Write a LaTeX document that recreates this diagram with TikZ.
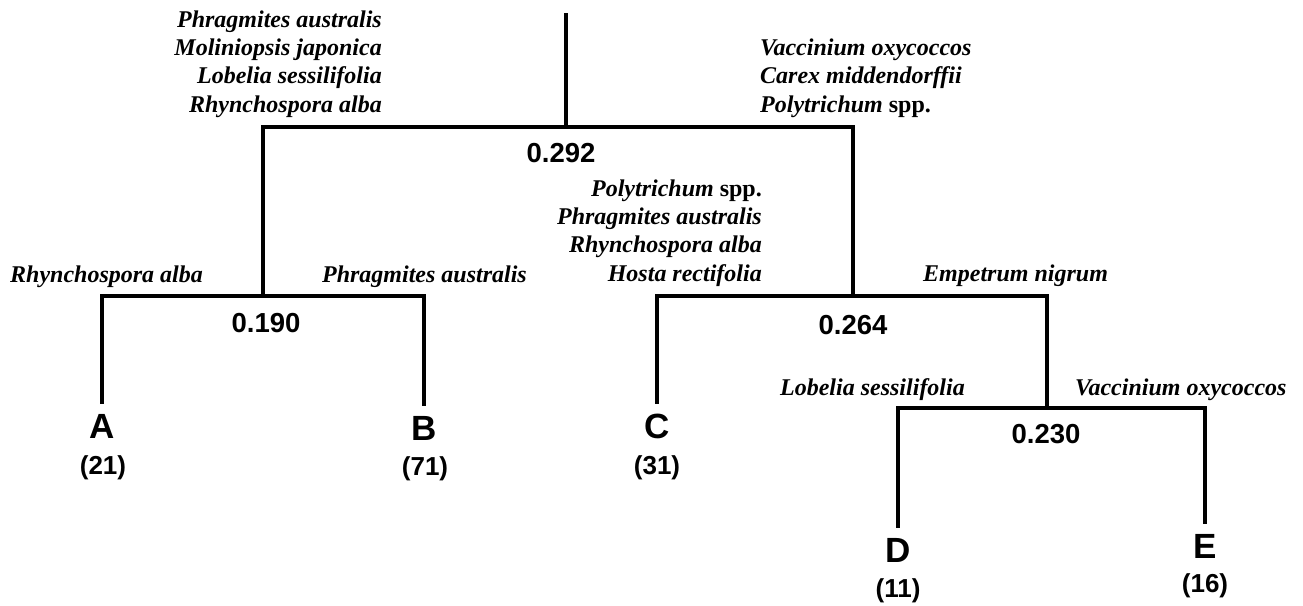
\documentclass[tikz,border=0pt]{standalone}
\usepackage{fontspec}
\setmainfont{Liberation Serif}
\setsansfont{Liberation Sans}
\begin{document}
\begin{tikzpicture}[x=1pt,y=-1pt,
  sp/.style={font=\fontsize{24}{28.3}\selectfont\bfseries\itshape, inner sep=0pt},
  num/.style={font=\fontsize{27.5}{30}\selectfont\sffamily\bfseries, inner sep=0pt},
  leaf/.style={font=\fontsize{35}{40}\selectfont\sffamily\bfseries, inner sep=0pt, outer ysep=10pt, anchor=base},
  cnt/.style={font=\fontsize{26}{28}\selectfont\sffamily\bfseries, inner sep=0pt, anchor=base},
  branch/.style={line width=4pt, line join=miter}]
\path[use as bounding box] (0,0) rectangle (1303,605);
% junctions
\coordinate (top) at (566,13);
\coordinate (j1) at (566,127);
\coordinate (j2) at (263,296);
\coordinate (j3) at (853,296);
\coordinate (j4) at (1047,408);
% leaves
\node[leaf] (A) at (102,438) {A};
\node[leaf] (B) at (424,440) {B};
\node[leaf] (C) at (657,438) {C};
\node[leaf] (D) at (898,562) {D};
\node[leaf] (E) at (1205,558) {E};
\node[cnt] (nA) at (103,474) {(21)};
\node[cnt] (nB) at (425,475) {(71)};
\node[cnt] (nC) at (657,474) {(31)};
\node[cnt] (nD) at (898,597) {(11)};
\node[cnt] (nE) at (1205,592) {(16)};
% branches
\draw[branch] (top) -- (j1);
\draw[branch] (j2) |- (j1) -| (j3);
\draw[branch] (A.north) |- (j2) -| (B.north);
\draw[branch] (C.north) |- (j3) -| (j4);
\draw[branch] (D.north) |- (j4) -| (E.north);
% distances
\node[num] (d1) at (561,153) {0.292};
\node[num] (d2) at (266,323) {0.190};
\node[num] (d3) at (853,325) {0.264};
\node[num] (d4) at (1046,434) {0.230};
% species labels
\node[sp, anchor=base east, align=right] (s1) at (382,112)
  {Phragmites australis\\Moliniopsis japonica\\Lobelia sessilifolia\\Rhynchospora alba};
\node[sp, anchor=base west, align=left] (s2) at (760,112)
  {Vaccinium oxycoccos\\Carex middendorffii\\Polytrichum \textup{spp.}};
\node[sp, anchor=base west] (s3) at (10,282) {Rhynchospora alba};
\node[sp, anchor=base east] (s4) at (527,282) {Phragmites australis};
\node[sp, anchor=base east, align=right] (s5) at (762,281)
  {Polytrichum \textup{spp.}\\Phragmites australis\\Rhynchospora alba\\Hosta rectifolia};
\node[sp, anchor=base west] (s6) at (923,281) {Empetrum nigrum};
\node[sp, anchor=base east] (s7) at (965,395) {Lobelia sessilifolia};
\node[sp, anchor=base west] (s8) at (1075,395) {Vaccinium oxycoccos};
\end{tikzpicture}
\end{document}
